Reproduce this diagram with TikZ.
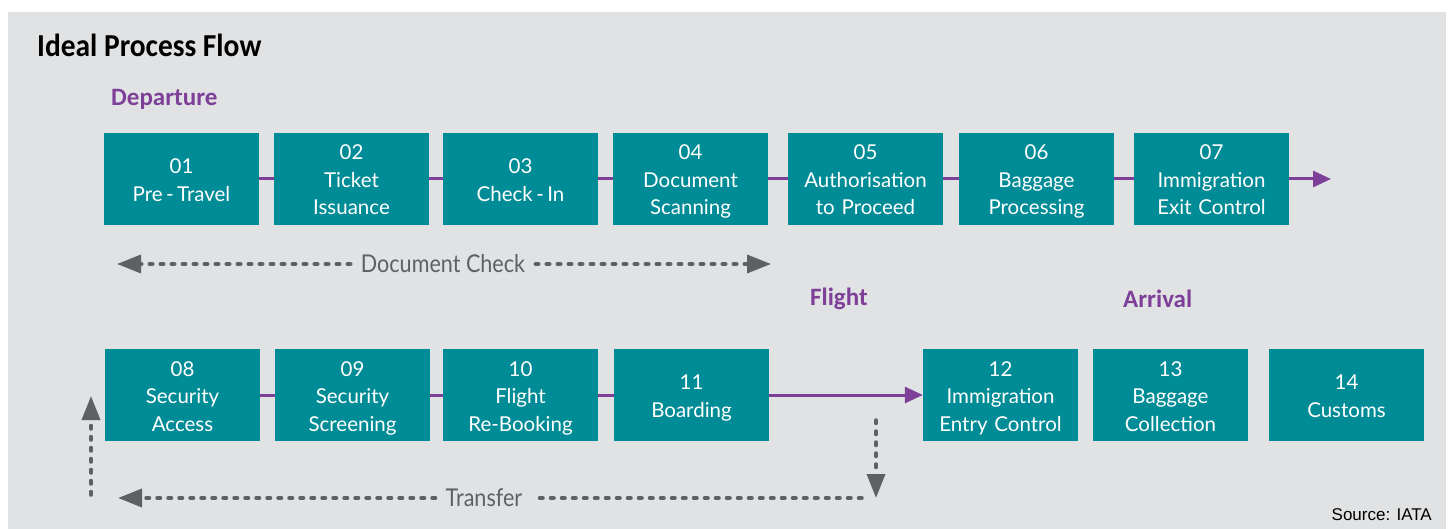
\documentclass[tikz,border=0pt]{standalone}
\usepackage{fontspec}
\setmainfont{Lato}
\newfontfamily\calfont{Carlito}
\newfontfamily\titlefont[FakeStretch=0.92]{Carlito}
\newfontfamily\condfont[FakeStretch=0.88]{Lato}
\newfontfamily\srcfont{Liberation Sans}
\usetikzlibrary{arrows.meta}
\definecolor{bgcol}{HTML}{E1E2E4}
\definecolor{boxteal}{HTML}{008C96}
\definecolor{purp}{HTML}{7D3F98}
\definecolor{dgray}{HTML}{5F6062}
\newcommand\boxstrut{\rule[-5.25pt]{0pt}{27.5pt}}
\tikzset{
  proc/.style={fill=boxteal, text=white, minimum width=155pt, minimum height=92pt,
    inner sep=0pt, align=center, text width=155pt,
    font=\fontsize{20.5}{27.5}\selectfont,
    execute at begin node=\boxstrut, execute at end node=\boxstrut},
  flow/.style={draw=purp, line width=3pt},
  flowarrow/.style={flow, -{Triangle[length=18pt,width=16pt]}},
  gdash/.style={draw=dgray, line width=3.5pt, line cap=round, dash pattern=on 3.5pt off 7.5pt},
  gtip/.style={-{Triangle[length=24pt,width=18pt]}},
  phase/.style={text=purp, anchor=west, inner sep=0pt, font=\calfont\bfseries\fontsize{25}{30}\selectfont},
  glabel/.style={text=dgray, inner xsep=10pt, inner ysep=4pt, font=\condfont\fontsize{24.5}{30}\selectfont}
}
\begin{document}
\begin{tikzpicture}[x=1pt,y=-1pt]
\useasboundingbox (0,0) rectangle (1448,529);
\fill[bgcol] (8,12) rectangle (1446,529);

\node[anchor=west, inner sep=0pt, font=\titlefont\bfseries\fontsize{32}{36}\selectfont] (title) at (37,45) {Ideal Process Flow};
\node[phase] (dep) at (111,99) {Departure};
\node[phase] (flt) at (810,299) {Flight};
\node[phase] (arr) at (1123,299) {Arrival};

% row 1
\node[proc] (n01) at (181.5,179) {01\\Pre\,-\,Travel};
\node[proc] (n02) at (351.5,179) {02\\Ticket\\Issuance};
\node[proc] (n03) at (520.5,179) {03\\Check\,-\,In};
\node[proc] (n04) at (690.5,179) {04\\Document\\Scanning};
\node[proc] (n05) at (865.5,179) {05\\Authorisation\\to Proceed};
\node[proc] (n06) at (1036.5,179) {06\\Baggage\\Processing};
\node[proc] (n07) at (1211.5,179) {07\\Immigration\\Exit Control};
\coordinate (e07) at (1331,179);

% row 2
\node[proc] (n08) at (182.5,395) {08\\Security\\Access};
\node[proc] (n09) at (352.5,395) {09\\Security\\Screening};
\node[proc] (n10) at (520.5,395) {10\\Flight\\Re-Booking};
\node[proc] (n11) at (691.5,395) {11\\Boarding};
\node[proc] (n12) at (1000.5,395) {12\\Immigration\\Entry Control};
\node[proc] (n13) at (1170.5,395) {13\\Baggage\\Collection};
\node[proc] (n14) at (1346.5,395) {14\\Customs};

% purple connectors
\draw[flow] (n01) -- (n02);
\draw[flow] (n02) -- (n03);
\draw[flow] (n03) -- (n04);
\draw[flow] (n04) -- (n05);
\draw[flow] (n05) -- (n06);
\draw[flow] (n06) -- (n07);
\draw[flowarrow] (n07.east) -- (e07);
\draw[flow] (n08) -- (n09);
\draw[flow] (n09) -- (n10);
\draw[flow] (n10) -- (n11);
\draw[flowarrow] (n11) -- (n12);

% document check
\node[glabel] (dct) at (443,264) {Document Check};
\coordinate (dcL) at (117,264);
\coordinate (dcR) at (771,264);
\draw[gdash, gtip] (dct.west) -- (dcL);
\draw[gdash, gtip] (dct.east) -- (dcR);

% transfer
\node[glabel] (trt) at (484,498) {Transfer};
\coordinate (trR) at (862,498);
\coordinate (trL) at (118,498);
\draw[gdash] (trR) -- (trt.east);
\draw[gdash, gtip] (trt.west) -- (trL);
\coordinate (vu1) at (91,495);
\coordinate (vu2) at (91,396);
\draw[gdash, gtip] (vu1) -- (vu2);
\coordinate (vd1) at (876,420);
\coordinate (vd2) at (876,498);
\draw[gdash, gtip] (vd1) -- (vd2);

\node[anchor=east, inner sep=0pt, font=\srcfont\fontsize{17}{20}\selectfont] (src) at (1432,515) {Source: IATA};
\end{tikzpicture}
\end{document}
